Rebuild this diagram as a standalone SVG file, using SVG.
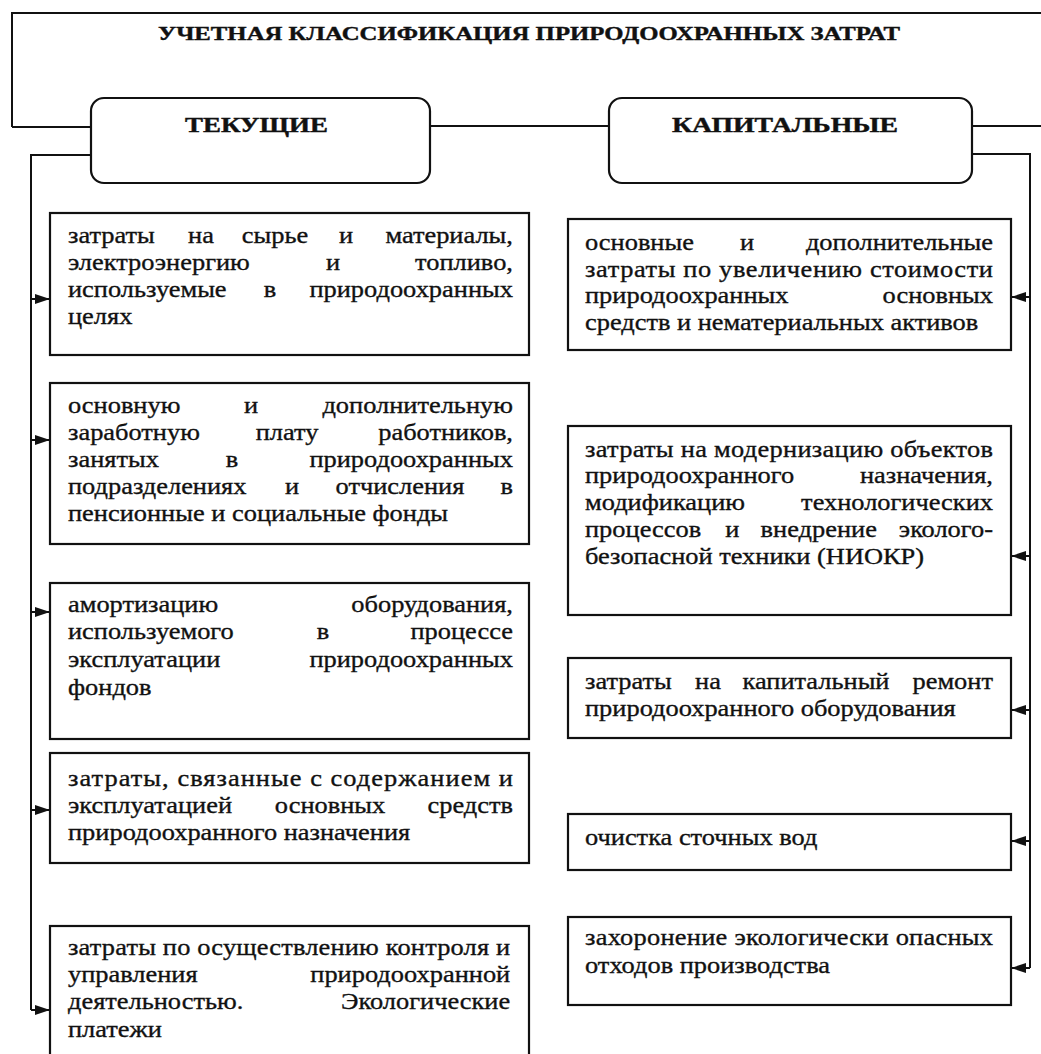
<svg xmlns="http://www.w3.org/2000/svg" width="1041" height="1054" viewBox="0 0 1041 1054">
<style>
.bg{fill:#ffffff}
.box{fill:#ffffff;stroke:#111;stroke-width:2.2}
.hdr{fill:#ffffff;stroke:#111;stroke-width:2.2}
.ln{fill:none;stroke:#111;stroke-width:2}
.t{font-family:"Liberation Serif","Times New Roman",serif;font-size:24px;fill:#111;stroke:#111;stroke-width:0.35}
.h{font-family:"Liberation Serif","Times New Roman",serif;font-weight:bold;fill:#111;stroke:#111;stroke-width:0.4}
.e{text-anchor:end}
.m{text-anchor:middle}
</style>
<defs>
<marker id="ar" viewBox="0 0 15 10" refX="15" refY="5" markerWidth="15" markerHeight="10" markerUnits="userSpaceOnUse" orient="auto">
<path d="M0,0 L15,5 L0,10 z" fill="#111"/>
</marker>
</defs>
<rect class="bg" x="0" y="0" width="1041" height="1054"/>

<g id="connectors">
<path class="ln" d="M12,127 V13 H1041"/>
<path class="ln" d="M12,127 H91"/>
<path class="ln" d="M430,126 H609"/>
<path class="ln" d="M972,126 H1041"/>
<path class="ln" d="M91,155 H31 V1010"/>
<path class="ln" d="M31,299 H50" marker-end="url(#ar)"/>
<path class="ln" d="M31,440 H50" marker-end="url(#ar)"/>
<path class="ln" d="M31,612 H50" marker-end="url(#ar)"/>
<path class="ln" d="M31,810 H50" marker-end="url(#ar)"/>
<path class="ln" d="M31,1010 H50" marker-end="url(#ar)"/>
<path class="ln" d="M972,154 H1030 V968"/>
<path class="ln" d="M1030,297 H1011" marker-end="url(#ar)"/>
<path class="ln" d="M1030,556 H1011" marker-end="url(#ar)"/>
<path class="ln" d="M1030,710 H1011" marker-end="url(#ar)"/>
<path class="ln" d="M1030,841 H1011" marker-end="url(#ar)"/>
<path class="ln" d="M1030,968 H1011" marker-end="url(#ar)"/>
</g>

<g id="title">
<text class="h" x="158" y="40" font-size="19" textLength="742" lengthAdjust="spacingAndGlyphs">УЧЕТНАЯ КЛАССИФИКАЦИЯ ПРИРОДООХРАННЫХ ЗАТРАТ</text>
</g>

<g id="current">
<rect class="hdr" x="91" y="98" width="339" height="85" rx="13"/>
<text class="h" x="185" y="132" font-size="20" textLength="143" lengthAdjust="spacingAndGlyphs">ТЕКУЩИЕ</text>
</g>

<g id="capital">
<rect class="hdr" x="609" y="98" width="363" height="85" rx="13"/>
<text class="h" x="672" y="132" font-size="20" textLength="226" lengthAdjust="spacingAndGlyphs">КАПИТАЛЬНЫЕ</text>
</g>

<g id="cur1">
<rect class="box" x="50" y="213" width="479" height="142"/>
<g transform="translate(68 0) scale(1.1 1)">
<text class="t" x="0" y="243">затраты</text>
<text class="t m" x="120.9" y="243">на</text>
<text class="t m" x="188.2" y="243">сырье</text>
<text class="t m" x="252.7" y="243">и</text>
<text class="t e" x="404.5" y="243">материалы,</text>
<text class="t" x="0" y="270">электроэнергию</text>
<text class="t m" x="240.9" y="270">и</text>
<text class="t e" x="404.5" y="270">топливо,</text>
<text class="t" x="0" y="297">используемые</text>
<text class="t m" x="183.6" y="297">в</text>
<text class="t e" x="404.5" y="297">природоохранных</text>
<text class="t" x="0" y="324">целях</text>
</g>
</g>

<g id="cur2">
<rect class="box" x="50" y="383" width="479" height="161"/>
<g transform="translate(68 0) scale(1.1 1)">
<text class="t" x="0" y="413">основную</text>
<text class="t m" x="166.4" y="413">и</text>
<text class="t e" x="404.5" y="413">дополнительную</text>
<text class="t" x="0" y="440">заработную</text>
<text class="t m" x="199.1" y="440">плату</text>
<text class="t e" x="404.5" y="440">работников,</text>
<text class="t" x="0" y="467">занятых</text>
<text class="t m" x="149.1" y="467">в</text>
<text class="t e" x="404.5" y="467">природоохранных</text>
<text class="t" x="0" y="494">подразделениях</text>
<text class="t m" x="203.6" y="494">и</text>
<text class="t m" x="301.8" y="494">отчисления</text>
<text class="t e" x="404.5" y="494">в</text>
<text class="t" x="0" y="521">пенсионные и социальные фонды</text>
</g>
</g>

<g id="cur3">
<rect class="box" x="50" y="583" width="479" height="156"/>
<g transform="translate(68 0) scale(1.1 1)">
<text class="t" x="0" y="612">амортизацию</text>
<text class="t e" x="404.5" y="612">оборудования,</text>
<text class="t" x="0" y="639">используемого</text>
<text class="t m" x="231.8" y="639">в</text>
<text class="t e" x="404.5" y="639">процессе</text>
<text class="t" x="0" y="667">эксплуатации</text>
<text class="t e" x="404.5" y="667">природоохранных</text>
<text class="t" x="0" y="695">фондов</text>
</g>
</g>

<g id="cur4">
<rect class="box" x="50" y="753" width="479" height="110"/>
<g transform="translate(68 0) scale(1.1 1)">
<text class="t" x="0" y="786" textLength="404.5" lengthAdjust="spacing">затраты, связанные с содержанием и</text>
<text class="t" x="0" y="813">эксплуатацией</text>
<text class="t m" x="238.2" y="813">основных</text>
<text class="t e" x="404.5" y="813">средств</text>
<text class="t" x="0" y="840">природоохранного назначения</text>
</g>
</g>

<g id="cur5">
<rect class="box" x="50" y="926" width="479" height="150"/>
<g transform="translate(68 0) scale(1.1 1)">
<text class="t" x="0" y="955" textLength="402" lengthAdjust="spacing">затраты по осуществлению контроля и</text>
<text class="t" x="0" y="982">управления</text>
<text class="t e" x="402" y="982">природоохранной</text>
<text class="t" x="0" y="1009">деятельностью.</text>
<text class="t e" x="402" y="1009">Экологические</text>
<text class="t" x="0" y="1037">платежи</text>
</g>
</g>

<g id="cap1">
<rect class="box" x="568" y="219" width="443" height="131"/>
<g transform="translate(585 0) scale(1.1 1)">
<text class="t" x="0" y="250">основные</text>
<text class="t m" x="147.3" y="250">и</text>
<text class="t e" x="370.9" y="250">дополнительные</text>
<text class="t" x="0" y="277" textLength="370.9" lengthAdjust="spacing">затраты по увеличению стоимости</text>
<text class="t" x="0" y="303">природоохранных</text>
<text class="t e" x="370.9" y="303">основных</text>
<text class="t" x="0" y="330">средств и нематериальных активов</text>
</g>
</g>

<g id="cap2">
<rect class="box" x="568" y="426" width="443" height="189"/>
<g transform="translate(585 0) scale(1.1 1)">
<text class="t" x="0" y="457" textLength="370.9" lengthAdjust="spacing">затраты на модернизацию объектов</text>
<text class="t" x="0" y="483">природоохранного</text>
<text class="t e" x="370.9" y="483">назначения,</text>
<text class="t" x="0" y="510">модификацию</text>
<text class="t e" x="370.9" y="510">технологических</text>
<text class="t" x="0" y="537">процессов</text>
<text class="t m" x="134" y="537">и</text>
<text class="t m" x="212.5" y="537">внедрение</text>
<text class="t e" x="370.9" y="537">эколого-</text>
<text class="t" x="0" y="564">безопасной техники (НИОКР)</text>
</g>
</g>

<g id="cap3">
<rect class="box" x="568" y="658" width="443" height="80"/>
<g transform="translate(585 0) scale(1.1 1)">
<text class="t" x="0" y="689">затраты</text>
<text class="t m" x="111.8" y="689">на</text>
<text class="t m" x="210" y="689">капитальный</text>
<text class="t e" x="370.9" y="689">ремонт</text>
<text class="t" x="0" y="716">природоохранного оборудования</text>
</g>
</g>

<g id="cap4">
<rect class="box" x="568" y="814" width="443" height="56"/>
<g transform="translate(585 0) scale(1.1 1)">
<text class="t" x="0" y="845">очистка сточных вод</text>
</g>
</g>

<g id="cap5">
<rect class="box" x="568" y="917" width="443" height="88"/>
<g transform="translate(585 0) scale(1.1 1)">
<text class="t" x="0" y="945" textLength="370.9" lengthAdjust="spacing">захоронение экологически опасных</text>
<text class="t" x="0" y="973">отходов производства</text>
</g>
</g>
</svg>
